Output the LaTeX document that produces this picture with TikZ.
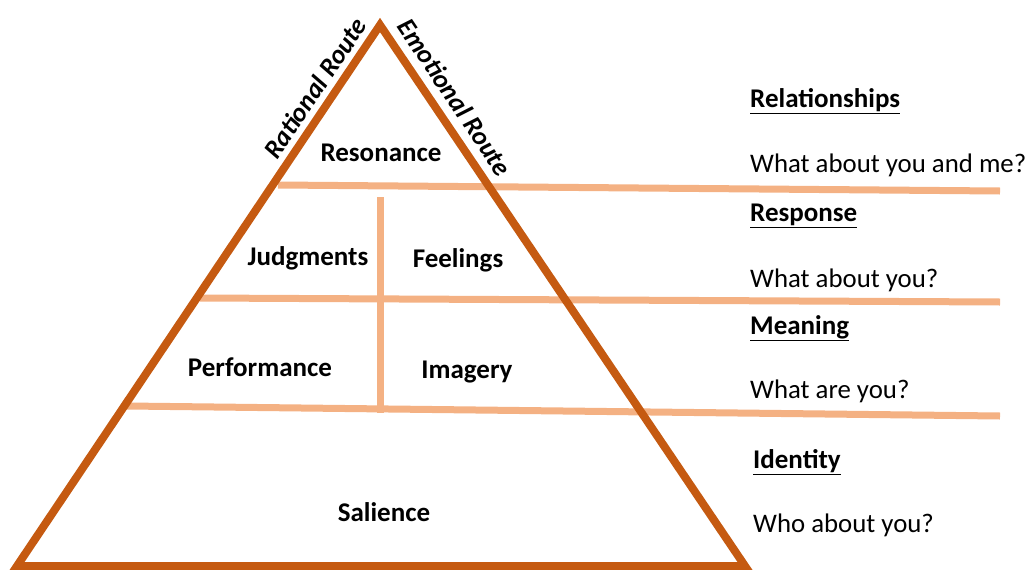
\documentclass[tikz,border=0pt]{standalone}
\usepackage{fontspec}
\setmainfont{Carlito}
\definecolor{darkor}{HTML}{C55A11}
\definecolor{lightor}{HTML}{F4B183}
\begin{document}
\begin{tikzpicture}[x=1pt,y=-1pt,
  tri/.style={draw=darkor,line width=8pt,line join=miter},
  band/.style={draw=lightor,line width=7pt},
  lbl/.style={font=\fontsize{27}{30}\selectfont\bfseries,inner sep=0pt},
  route/.style={font=\fontsize{26.5}{30}\selectfont\bfseries\itshape,inner sep=0pt},
  head/.style={font=\fontsize{27}{30}\selectfont\bfseries,inner sep=0pt,anchor=west},
  q/.style={font=\fontsize{26.8}{30}\selectfont,inner sep=0pt,anchor=west}]
\useasboundingbox (0,0) rectangle (1033,570);
\coordinate (top) at (380,25);
\coordinate (bl) at (17,566);
\coordinate (br) at (745,566);
% bands
\coordinate (a1) at (278,185); \coordinate (b1) at (1000,191);
\coordinate (a2) at (200,298); \coordinate (b2) at (1000,302);
\coordinate (a3) at (127,406); \coordinate (b3) at (1000,416);
\coordinate (v1) at (380,197); \coordinate (v2) at (380,413);
\draw[band] (a1) -- (b1);
\draw[band] (a2) -- (b2);
\draw[band] (a3) -- (b3);
\draw[band] (v1) -- (v2);
\draw[tri] (top) -- (br) -- (bl) -- cycle;
% labels
\node[lbl] (res) at (381,153) {Resonance};
\node[lbl] (jud) at (308,258) {Judgments};
\node[lbl] (fee) at (458,260) {Feelings};
\node[lbl] (per) at (260,367) {Performance};
\node[lbl] (ima) at (467,372) {Imagery};
\node[lbl] (sal) at (384,512) {Salience};
\node[route,rotate=56.1] (rat) at (315,88) {Rational Route};
\node[route,rotate=-56.1] (emo) at (455,97) {Emotional Route};
% right side
\node[head] (h1) at (750,101) {\underline{Relationships}};
\node[q] (q1) at (750,165) {What about you and me?};
\node[head] (h2) at (750,216) {\underline{Response}};
\node[q] (q2) at (750,280) {What about you?};
\node[head] (h3) at (750,328) {\underline{Meaning}};
\node[q] (q3) at (750,391) {What are you?};
\node[head] (h4) at (753,462) {\underline{Identity}};
\node[q] (q4) at (753,525) {Who about you?};
\end{tikzpicture}
\end{document}
